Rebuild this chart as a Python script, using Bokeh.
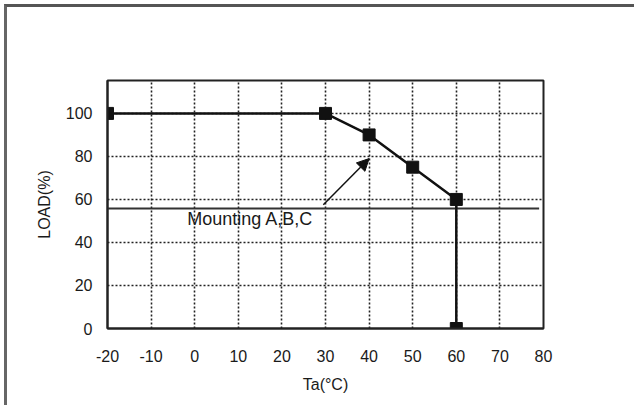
from bokeh.plotting import figure
from bokeh.models import Arrow, NormalHead, Label, FixedTicker
from bokeh.embed import file_html
from bokeh.resources import INLINE

# Data
temp = [-20, 30, 40, 50, 60, 60]
load = [100, 100, 90, 75, 60, 0]
x_ticks = [-20, -10, 0, 10, 20, 30, 40, 50, 60, 70, 80]
y_ticks = [0, 20, 40, 60, 80, 100]
ref_line_x = [-20, 79]
ref_line_y = [55.8, 55.8]
arrow_start = (29.5, 57.5)
arrow_end = (40.0, 79.0)
label_pos = (27.2, 55.4)
label_text = "Mounting A,B,C"

FONT = "Liberation Sans"

p = figure(width=630, height=401, output_backend="svg", toolbar_location=None,
           x_range=(-20, 80), y_range=(0, 115.3),
           min_border_left=100, min_border_right=94, min_border_top=73, min_border_bottom=80,
           x_axis_label="Ta(°C)", y_axis_label="LOAD(%)")
p.styles = {"border-top": "3px solid #555", "border-left": "3px solid #666",
            "margin-left": "4px", "margin-top": "4px"}

p.outline_line_color = "#222"
p.outline_line_width = 2

for ax in (p.xaxis[0], p.yaxis[0]):
    ax.axis_line_color = "#222"
    ax.axis_line_width = 2
    ax.major_tick_out = 0
    ax.major_tick_in = 0
    ax.minor_tick_out = 0
    ax.minor_tick_in = 0
    ax.major_label_text_font = FONT
    ax.major_label_text_font_size = "16px"
    ax.major_label_text_color = "#1a1a1a"
    ax.axis_label_text_font = FONT
    ax.axis_label_text_font_size = "16px"
    ax.axis_label_text_font_style = "normal"
    ax.axis_label_text_color = "#1a1a1a"

p.xaxis[0].ticker = FixedTicker(ticks=x_ticks)
p.yaxis[0].ticker = FixedTicker(ticks=y_ticks)
p.xaxis[0].major_label_overrides = {t: str(t) for t in x_ticks}
p.yaxis[0].major_label_overrides = {t: str(t) for t in y_ticks}
p.xaxis[0].major_label_standoff = 21
p.xaxis[0].axis_label_standoff = 11
p.yaxis[0].major_label_standoff = 15
p.yaxis[0].axis_label_standoff = 10

for g in (p.xgrid[0], p.ygrid[0]):
    g.grid_line_color = "#222"
    g.grid_line_width = 1.6
    g.grid_line_dash = "2 2"
p.xgrid[0].ticker = FixedTicker(ticks=x_ticks)
p.ygrid[0].ticker = FixedTicker(ticks=y_ticks)

# reference line (solid horizontal)
p.line(ref_line_x, ref_line_y, line_color="#333", line_width=2)

# derating curve
p.line(temp, load, line_color="#111", line_width=2.5)
p.scatter(temp, load, marker="square", size=12, fill_color="#111", line_color="#111")

# annotation arrow
p.add_layout(Arrow(end=NormalHead(size=12, fill_color="#111", line_color="#111"),
                   x_start=arrow_start[0], y_start=arrow_start[1],
                   x_end=arrow_end[0], y_end=arrow_end[1],
                   line_color="#111", line_width=1.5))
p.add_layout(Label(x=label_pos[0], y=label_pos[1], text=label_text,
                   text_align="right", text_baseline="top",
                   text_font=FONT, text_font_size="18px", text_color="#1a1a1a"))

open("out.html", "w").write(file_html(p, INLINE))
